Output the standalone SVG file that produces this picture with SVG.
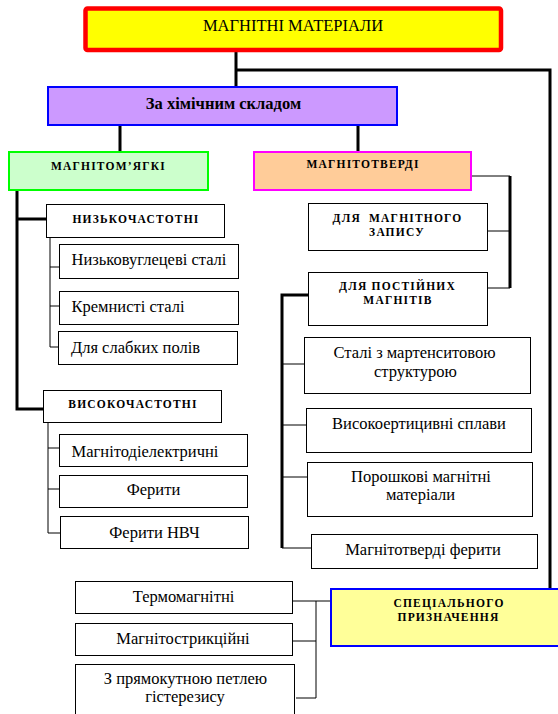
<svg xmlns="http://www.w3.org/2000/svg" width="558" height="714" viewBox="0 0 558 714">
<style>
.box{fill:#fff;stroke:#000;stroke-width:1}
.t{font-family:"Liberation Serif","Times New Roman",serif;font-size:16.5px;fill:#000;text-anchor:middle}
.b{font-family:"Liberation Serif","Times New Roman",serif;font-size:11.5px;font-weight:bold;letter-spacing:1.2px;fill:#000;text-anchor:middle}
.thick{stroke:#000;stroke-width:3;fill:none}
.thin{stroke:#000;stroke-width:1;fill:none}
</style>
<rect width="558" height="714" fill="#fff"/>
<g id="connectors">
<path class="thick" d="M236 52V88M236 70H550V588"/>
<path class="thick" d="M120 125V152M358 125V152"/>
<path class="thick" d="M17 191V409H43M17 219H46"/>
<path class="thin" d="M50 237V347M50 267H59M50 306H59M50 347H58"/>
<path class="thin" d="M48 423V533M48 448H59M48 489H59M48 533H60"/>
<path class="thin" d="M471 176H510M488 231H510M488 288H510"/>
<path class="thick" d="M510 176V288"/>
<path class="thick" d="M308 295H282V548"/>
<path class="thin" d="M282 364H304M282 425H306M282 477H307M282 548H311"/>
<path class="thin" d="M292 601H330M316 601V698M292 641H316M296 698H316"/>
</g>
<g id="magnetic-materials">
<rect x="85.5" y="8.5" width="415.5" height="41.5" rx="2" fill="#ffff00" stroke="#ff0000" stroke-width="4.5"/>
<text class="t" x="293" y="31">МАГНІТНІ МАТЕРІАЛИ</text>
</g>
<g id="chemical">
<rect x="48" y="87" width="349" height="38" fill="#cc99ff" stroke="#0000ff" stroke-width="2"/>
<text class="t" x="223.5" y="109" style="font-weight:bold">За хімічним складом</text>
</g>
<g id="soft">
<rect x="9" y="152" width="199" height="38" fill="#ccffcc" stroke="#00ff00" stroke-width="2"/>
<text class="b" x="108.5" y="170">МАГНІТОМ’ЯГКІ</text>
</g>
<g id="hard">
<rect x="254" y="152" width="217" height="38" fill="#ffcc99" stroke="#ff00ff" stroke-width="2"/>
<text class="b" x="363" y="168">МАГНІТОТВЕРДІ</text>
</g>
<g id="low-freq">
<rect class="box" x="46.5" y="204.5" width="178" height="33"/>
<text class="b" x="136" y="223">НИЗЬКОЧАСТОТНІ</text>
</g>
<g id="low-carbon">
<rect class="box" x="59.5" y="244.5" width="179" height="34"/>
<text class="t" x="149" y="265">Низьковуглецеві сталі</text>
</g>
<g id="silicon">
<rect class="box" x="59.5" y="291.5" width="179" height="33"/>
<text class="t" x="128" y="312">Кремнисті сталі</text>
</g>
<g id="weak-fields">
<rect class="box" x="58.5" y="331.5" width="179" height="33"/>
<text class="t" x="135.5" y="353">Для слабких полів</text>
</g>
<g id="high-freq">
<rect class="box" x="43.5" y="390.5" width="178" height="32"/>
<text class="b" x="133" y="408">ВИСОКОЧАСТОТНІ</text>
</g>
<g id="magnetodielectric">
<rect class="box" x="59.5" y="434.5" width="188" height="32"/>
<text class="t" x="145" y="457">Магнітодіелектричні</text>
</g>
<g id="ferrites">
<rect class="box" x="59.5" y="475.5" width="188" height="32"/>
<text class="t" x="153.5" y="495">Ферити</text>
</g>
<g id="ferrites-uhf">
<rect class="box" x="60.5" y="516.5" width="188" height="32"/>
<text class="t" x="154.5" y="538">Ферити НВЧ</text>
</g>
<g id="recording">
<rect class="box" x="308.5" y="203.5" width="179" height="47"/>
<text class="b" x="397.5" y="222" style="white-space:pre">ДЛЯ  МАГНІТНОГО</text>
<text class="b" x="397" y="236">ЗАПИСУ</text>
</g>
<g id="permanent">
<rect class="box" x="308.5" y="272.5" width="179" height="53"/>
<text class="b" x="397.5" y="290">ДЛЯ ПОСТІЙНИХ</text>
<text class="b" x="398" y="304">МАГНІТІВ</text>
</g>
<g id="martensite">
<rect class="box" x="304.5" y="337.5" width="226" height="56"/>
<text class="t" x="414.5" y="358">Сталі з мартенситовою</text>
<text class="t" x="415.5" y="377">структурою</text>
</g>
<g id="high-coercive">
<rect class="box" x="306.5" y="408.5" width="225" height="44"/>
<text class="t" x="419" y="429">Високоертицивні сплави</text>
</g>
<g id="powder">
<rect class="box" x="307.5" y="462.5" width="225" height="54"/>
<text class="t" x="421" y="482">Порошкові магнітні</text>
<text class="t" x="420.5" y="500">матеріали</text>
</g>
<g id="hard-ferrites">
<rect class="box" x="311.5" y="534.5" width="226" height="34"/>
<text class="t" x="423" y="555">Магнітотверді ферити</text>
</g>
<g id="special">
<rect x="331" y="589" width="230" height="57" fill="#ffff99" stroke="#0000ff" stroke-width="2"/>
<text class="b" x="449" y="607">СПЕЦІАЛЬНОГО</text>
<text class="b" x="448.5" y="621">ПРИЗНАЧЕННЯ</text>
</g>
<g id="thermomagnetic">
<rect class="box" x="75.5" y="581.5" width="217" height="32"/>
<text class="t" x="183.5" y="602">Термомагнітні</text>
</g>
<g id="magnetostrictive">
<rect class="box" x="75.5" y="623.5" width="217" height="32"/>
<text class="t" x="183" y="644">Магнітострикційні</text>
</g>
<g id="rectangular-loop">
<rect class="box" x="75.5" y="664.5" width="219" height="56"/>
<text class="t" x="185.5" y="684">З прямокутною петлею</text>
<text class="t" x="185" y="702">гістерезису</text>
</g>
</svg>
